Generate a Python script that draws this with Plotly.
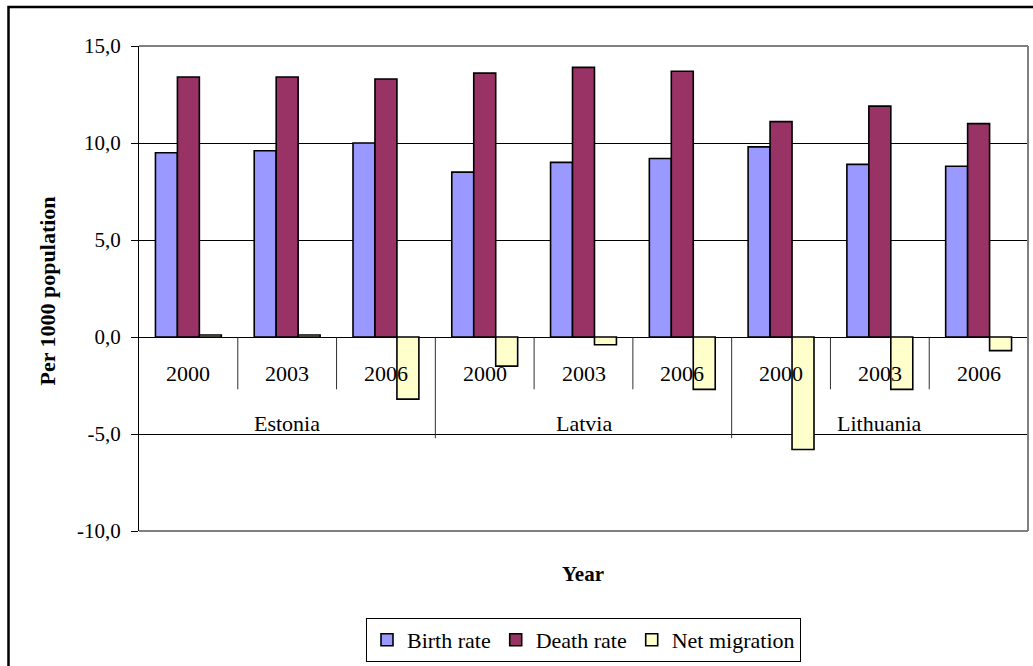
import plotly.graph_objects as go

# Vital statistics of the Baltic states, per 1000 population
countries = ["Estonia", "Latvia", "Lithuania"]
years = ["2000", "2003", "2006"]
birth_rate = [9.5, 9.6, 10.0, 8.5, 9.0, 9.2, 9.8, 8.9, 8.8]
death_rate = [13.4, 13.4, 13.3, 13.6, 13.9, 13.7, 11.1, 11.9, 11.0]
net_migration = [0.1, 0.1, -3.2, -1.5, -0.4, -2.7, -5.8, -2.7, -0.7]
series_names = ["Birth rate", "Death rate", "Net migration"]
series_colors = ["#9999FF", "#993366", "#FFFFCC"]
y_ticks = [15, 10, 5, 0, -5, -10]
y_tick_labels = ["15,0", "10,0", "5,0", "0,0", "-5,0", "-10,0"]

W, H = 1033, 666
L, R, T, B = 139, 5, 46, 134
PW, PH = W - L - R, H - T - B
FONT = "Liberation Serif, Times New Roman, serif"


def px_x(p):
    return (p - L) / PW


def px_y(p):
    return (H - B - p) / PH


n_years = len(years)
n_cats = len(countries) * n_years
xs = list(range(n_cats))

fig = go.Figure()
for name, vals, col in zip(series_names, [birth_rate, death_rate, net_migration], series_colors):
    fig.add_bar(x=xs, y=vals, name=name,
                marker=dict(color=col, line=dict(color="black", width=1.6)))

shapes = []
annotations = []

# year labels and short separators under the zero line
for i in range(n_cats):
    annotations.append(dict(x=i, xref="x", y=px_y(374), yref="paper",
                            text=years[i % n_years], showarrow=False,
                            font=dict(size=22, color="black", family=FONT),
                            xanchor="center", yanchor="middle"))
    if i < n_cats - 1 and (i + 1) % n_years != 0:
        shapes.append(dict(type="line", xref="x", yref="paper",
                           x0=i + 0.5, x1=i + 0.5, y0=px_y(338), y1=px_y(390),
                           line=dict(color="#303030", width=1)))

# country labels and long separators
for k, c in enumerate(countries):
    annotations.append(dict(x=k * n_years + (n_years - 1) / 2, xref="x",
                            y=px_y(424), yref="paper", text=c, showarrow=False,
                            font=dict(size=22, color="black", family=FONT),
                            xanchor="center", yanchor="middle"))
    if k < len(countries) - 1:
        xsep = (k + 1) * n_years - 0.5
        shapes.append(dict(type="line", xref="x", yref="paper",
                           x0=xsep, x1=xsep, y0=px_y(338), y1=px_y(439),
                           line=dict(color="#303030", width=1)))

# plot-area frame (top, right, bottom in grey)
for x0, y0, x1, y1 in [(0, 1, 1, 1), (1, 1, 1, 0), (0, 0, 1, 0)]:
    shapes.append(dict(type="line", xref="paper", yref="paper",
                       x0=x0, y0=y0, x1=x1, y1=y1,
                       line=dict(color="#808080", width=2)))

# outer chart frame
shapes.append(dict(type="rect", xref="paper", yref="paper",
                   x0=px_x(8.5), y0=px_y(7), x1=px_x(W + 20), y1=px_y(H + 20),
                   line=dict(color="black", width=2.5), layer="below"))

# axis titles
annotations.append(dict(x=px_x(583), y=px_y(575), xref="paper", yref="paper",
                        text="<b>Year</b>", showarrow=False,
                        xanchor="center", yanchor="middle",
                        font=dict(size=21, color="black", family=FONT)))
annotations.append(dict(x=px_x(47), y=px_y(292), xref="paper", yref="paper",
                        text="<b>Per 1000 population</b>", textangle=-90,
                        showarrow=False, xanchor="center", yanchor="middle",
                        font=dict(size=22, color="black", family=FONT)))

fig.update_layout(
    width=W, height=H,
    margin=dict(l=L, r=R, t=T, b=B, pad=0),
    paper_bgcolor="white", plot_bgcolor="white",
    barmode="group", bargap=0.333, bargroupgap=0,
    font=dict(family=FONT, size=21, color="black"),
    xaxis=dict(range=[-0.5, n_cats - 0.5], showticklabels=False, showgrid=False,
               zeroline=False, showline=False, ticks=""),
    yaxis=dict(range=[-10, 15], tickvals=y_ticks, ticktext=y_tick_labels,
               showgrid=True, gridcolor="black", gridwidth=1,
               zeroline=True, zerolinecolor="black", zerolinewidth=1,
               showline=True, linecolor="black", linewidth=1,
               ticks="outside", ticklen=7, tickcolor="black",
               ticklabelstandoff=6,
               tickfont=dict(size=21, family=FONT, color="black")),
    showlegend=True,
    legend=dict(orientation="h", x=0.5, xanchor="center",
                y=px_y(618), yanchor="top",
                bordercolor="black", borderwidth=1, bgcolor="white",
                font=dict(size=22, family=FONT, color="black"),
                itemwidth=30, tracegroupgap=0),
    shapes=shapes,
    annotations=annotations,
)

fig.write_html("out.html")
